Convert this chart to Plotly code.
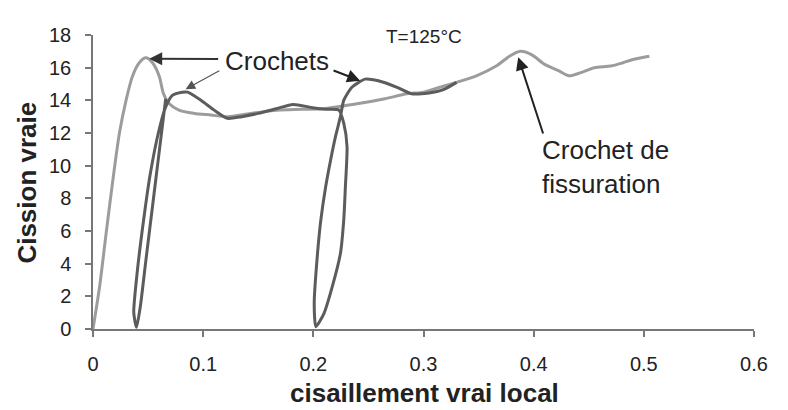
import plotly.graph_objects as go

# ---- data ----
light_x = [0, 0.006, 0.012, 0.018, 0.024, 0.030, 0.036, 0.042, 0.048, 0.054, 0.060, 0.064, 0.069,
           0.078, 0.092, 0.107, 0.122, 0.143, 0.167, 0.190, 0.211, 0.241, 0.265, 0.285, 0.300,
           0.315, 0.330, 0.348, 0.366, 0.378, 0.388, 0.398, 0.410, 0.423, 0.432, 0.443, 0.455,
           0.470, 0.481, 0.490, 0.505]
light_y = [0, 2.6, 5.9, 9.1, 12.0, 14.0, 15.5, 16.3, 16.6, 16.3, 15.5, 14.4, 13.8,
           13.4, 13.2, 13.1, 13.0, 13.2, 13.4, 13.45, 13.5, 13.8, 14.1, 14.4, 14.5,
           14.8, 15.1, 15.5, 16.1, 16.7, 17.0, 16.8, 16.2, 15.8, 15.5, 15.7, 16.0,
           16.1, 16.3, 16.5, 16.7]

dark_x = [0.066, 0.060, 0.054, 0.048, 0.043, 0.0395, 0.037, 0.040, 0.046, 0.052, 0.060, 0.066,
          0.072, 0.081, 0.086, 0.098, 0.110, 0.122, 0.135, 0.150, 0.167, 0.1816, 0.1994, 0.2113,
          0.2232, 0.2276, 0.2306, 0.2291, 0.2276, 0.2246, 0.2172, 0.2097, 0.2023, 0.2008, 0.2038,
          0.2068, 0.2112, 0.2157, 0.2201, 0.2246, 0.2276, 0.235, 0.247, 0.259, 0.276, 0.289,
          0.305, 0.318, 0.330]
dark_y = [14.1, 10.8, 7.5, 4.2, 1.4, 0.1, 1.0, 3.4, 6.7, 9.5, 12.2, 13.6,
          14.3, 14.5, 14.5, 14.0, 13.4, 12.9, 13.0, 13.2, 13.5, 13.75, 13.55, 13.45,
          13.4, 12.6, 11.16, 8.71, 6.67, 4.63, 2.59, 0.96, 0.14, 1.57, 4.63,
          6.67, 8.71, 10.35, 11.78, 13.0, 14.0, 14.8, 15.3, 15.2, 14.8, 14.4,
          14.45, 14.65, 15.1]

x_ticks = [0, 0.1, 0.2, 0.3, 0.4, 0.5, 0.6]
x_tick_labels = ["0", "0.1", "0.2", "0.3", "0.4", "0.5", "0.6"]
y_ticks = [0, 2, 4, 6, 8, 10, 12, 14, 16, 18]
y_tick_labels = ["0", "2", "4", "6", "8", "10", "12", "14", "16", "18"]

FONT = "Liberation Sans, Arial, sans-serif"
AXC = "#777777"

fig = go.Figure()
fig.add_trace(go.Scatter(x=light_x, y=light_y, mode="lines",
                         line=dict(color="#9c9c9c", width=3, shape="spline", smoothing=0.8),
                         showlegend=False, hoverinfo="skip"))
fig.add_trace(go.Scatter(x=dark_x, y=dark_y, mode="lines",
                         line=dict(color="#5c5c5c", width=3, shape="spline", smoothing=0.6),
                         showlegend=False, hoverinfo="skip"))

axis_common = dict(showgrid=False, zeroline=False, showline=True, linecolor=AXC, linewidth=1.5,
                   ticks="outside", ticklen=6, tickcolor=AXC, tickwidth=1.5,
                   tickfont=dict(family=FONT, size=20, color="#222222"), ticklabelstandoff=10)

# page body has an 8px default margin; the figure is offset by it
fig.update_layout(
    width=772, height=402,
    margin=dict(l=85, r=14, t=27, b=81),
    paper_bgcolor="white", plot_bgcolor="white",
    xaxis=dict(range=[0, 0.6], tickvals=x_ticks, ticktext=x_tick_labels, **axis_common),
    yaxis=dict(range=[0, 18], tickvals=y_ticks, ticktext=y_tick_labels, **axis_common),
    xaxis2=dict(range=[0, 0.6], overlaying="x", anchor="y", side="bottom", tickvals=x_ticks,
                showticklabels=False, ticks="inside", ticklen=6, tickcolor=AXC, tickwidth=1.5,
                showgrid=False, zeroline=False, showline=False),
    yaxis2=dict(range=[0, 18], overlaying="y", anchor="x", side="left", tickvals=y_ticks,
                showticklabels=False, ticks="inside", ticklen=5, tickcolor=AXC, tickwidth=1.5,
                showgrid=False, zeroline=False, showline=False),
    showlegend=False,
)

annotations = [
    # axis titles
    dict(text="<b>cisaillement vrai local</b>", xref="paper", yref="paper", x=0.502, y=0,
         yanchor="middle", yshift=-64, showarrow=False,
         font=dict(family=FONT, size=26, color="#222222")),
    dict(text="<b>Cission vraie</b>", xref="paper", yref="paper", x=0, y=0.498,
         xanchor="center", xshift=-66, textangle=-90, showarrow=False,
         font=dict(family=FONT, size=26, color="#222222")),
    # title
    dict(text="T=125°C", xref="paper", yref="paper", x=0.5007, y=1.037, showarrow=False,
         font=dict(family=FONT, size=19, color="#222222")),
    # labels
    dict(text="Crochets", xref="x", yref="y", x=0.1667, y=16.41, showarrow=False,
         font=dict(family=FONT, size=26, color="#222222")),
    dict(text="Crochet de<br>fissuration", xref="x", yref="y", x=0.4056, y=9.92,
         xanchor="left", align="left", showarrow=False,
         font=dict(family=FONT, size=26, color="#222222")),
    # arrows
    dict(text="", xref="x", yref="y", axref="x", ayref="y", x=0.051, y=16.55, ax=0.115, ay=16.53,
         showarrow=True, arrowhead=2, arrowsize=1.3, arrowwidth=2, arrowcolor="#333333"),
    dict(text="", xref="x", yref="y", axref="x", ayref="y", x=0.084, y=14.68, ax=0.116, ay=15.86,
         showarrow=True, arrowhead=2, arrowsize=1.6, arrowwidth=1.2, arrowcolor="#555555"),
    dict(text="", xref="x", yref="y", axref="x", ayref="y", x=0.2425, y=15.2, ax=0.217, ay=15.86,
         showarrow=True, arrowhead=2, arrowsize=1.3, arrowwidth=2, arrowcolor="#222222"),
    dict(text="", xref="x", yref="y", axref="x", ayref="y", x=0.386, y=16.64, ax=0.409, ay=11.88,
         showarrow=True, arrowhead=2, arrowsize=1.3, arrowwidth=2, arrowcolor="#222222"),
]
fig.update_layout(annotations=annotations)

fig.write_html("out.html")
